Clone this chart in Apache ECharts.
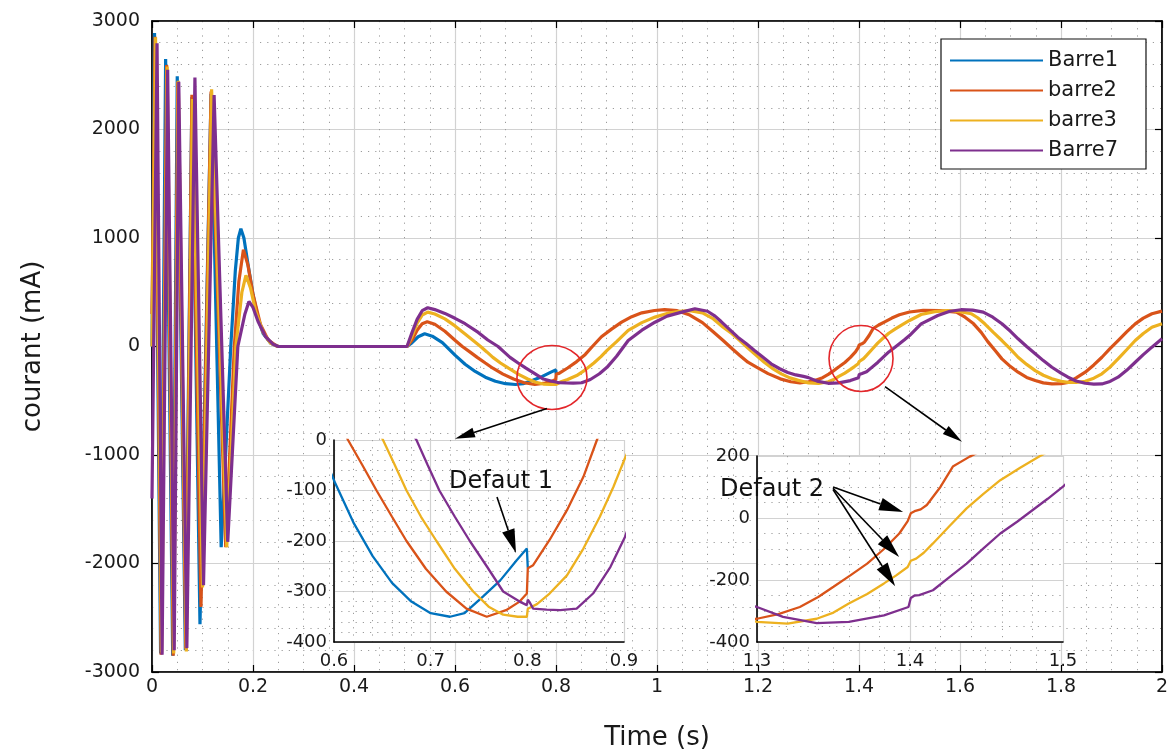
<!DOCTYPE html>
<html>
<head>
<meta charset="utf-8">
<script src="https://cdn.jsdelivr.net/npm/echarts@6/dist/echarts.min.js"></script>
<style>
  html, body { margin: 0; padding: 0; background: #fff; width: 1174px; height: 753px; overflow: hidden; }
  #chart { width: 1174px; height: 753px; }
</style>
</head>
<body>
<div id="chart"></div>
<script>
// Bus currents (mA) versus time (s)
const seriesNames = ['Barre1', 'barre2', 'barre3', 'Barre7'];
const seriesColors = ['#0072BD', '#D95319', '#EDB120', '#7E2F8E'];

const barre1 = [
  [0, 0], [0.005, 2890], [0.017, -2830], [0.027, 2650], [0.041, -2850], [0.050, 2490],
  [0.066, -2800], [0.079, 2300], [0.095, -2560], [0.117, 2330], [0.137, -1850],
  [0.156, 0], [0.165, 700], [0.171, 1000], [0.176, 1085], [0.182, 1000], [0.19, 760],
  [0.2, 480], [0.21, 260], [0.22, 120], [0.235, 30], [0.25, 0],
  [0.505, 0], [0.515, 35], [0.527, 90], [0.54, 117], [0.555, 95], [0.575, 35],
  [0.6, -80], [0.62, -163], [0.64, -230], [0.66, -283], [0.68, -320], [0.70, -343],
  [0.72, -350], [0.735, -343], [0.754, -310], [0.772, -278], [0.789, -238],
  [0.7995, -215], [0.8005, -254]
];

const barre2 = [
  [0, 300], [0.006, 2855], [0.018, -2840], [0.029, 2595], [0.042, -2850], [0.051, 2440],
  [0.067, -2790], [0.079, 2320], [0.097, -2400], [0.117, 2350], [0.146, -1850],
  [0.163, 0], [0.172, 600], [0.181, 893], [0.19, 750], [0.2, 480], [0.215, 200],
  [0.23, 60], [0.245, 10], [0.25, 0],
  [0.505, 0], [0.515, 60], [0.525, 150], [0.535, 210], [0.545, 228], [0.56, 205],
  [0.58, 140], [0.6, 58], [0.6145, 0], [0.63, -52], [0.644, -100], [0.66, -152],
  [0.675, -200], [0.695, -255], [0.716, -300], [0.737, -334], [0.758, -350],
  [0.778, -337], [0.792, -320], [0.7995, -304], [0.8005, -254], [0.806, -248],
  [0.823, -198], [0.841, -139], [0.858, -73], [0.872, 0], [0.89, 90], [0.91, 160],
  [0.93, 225], [0.95, 275], [0.97, 310], [0.995, 332], [1.015, 340], [1.04, 330],
  [1.065, 290], [1.09, 220], [1.11, 140], [1.131, 55], [1.15, -25], [1.164, -83],
  [1.18, -145], [1.197, -191], [1.22, -250], [1.244, -298], [1.265, -325],
  [1.283, -335], [1.3, -325], [1.314, -310], [1.328, -287], [1.34, -255],
  [1.35, -222], [1.361, -185], [1.372, -147], [1.383, -100], [1.393, -50],
  [1.3985, -10], [1.4005, 15], [1.403, 22], [1.407, 28], [1.411, 42], [1.42, 101],
  [1.428, 166], [1.439, 198], [1.45, 225], [1.465, 262], [1.48, 292], [1.5, 318],
  [1.527, 333], [1.56, 330], [1.593, 317], [1.61, 270], [1.627, 209], [1.642, 130],
  [1.655, 45], [1.67, -40], [1.683, -114], [1.7, -185], [1.715, -237], [1.732, -285],
  [1.749, -314], [1.765, -335], [1.782, -345], [1.8, -342], [1.814, -330],
  [1.83, -290], [1.848, -237], [1.865, -170], [1.881, -99], [1.897, -20],
  [1.913, 55], [1.93, 135], [1.947, 209], [1.963, 262], [1.98, 302], [2.0, 326]
];

const barre3 = [
  [0, 0], [0.007, 2850], [0.019, -2820], [0.030, 2580], [0.043, -2830], [0.052, 2450],
  [0.068, -2810], [0.080, 2280], [0.100, -2220], [0.118, 2370], [0.148, -1850],
  [0.166, 0], [0.178, 500], [0.186, 656], [0.195, 540], [0.205, 330], [0.22, 130],
  [0.235, 30], [0.25, 0],
  [0.505, 0], [0.515, 95], [0.525, 215], [0.535, 290], [0.546, 317], [0.56, 300],
  [0.58, 255], [0.6, 190], [0.62, 115], [0.6507, 0], [0.663, -50], [0.675, -100],
  [0.69, -152], [0.706, -200], [0.725, -255], [0.744, -300], [0.76, -330],
  [0.775, -346], [0.79, -350], [0.7995, -350], [0.8005, -334], [0.81, -325],
  [0.823, -304], [0.841, -268], [0.858, -215], [0.875, -152], [0.889, -93],
  [0.901, -36], [0.92, 45], [0.943, 148], [0.97, 220], [0.996, 271], [1.02, 305],
  [1.045, 325], [1.065, 330], [1.09, 310], [1.11, 260], [1.131, 178], [1.148, 120],
  [1.164, 55], [1.18, -15], [1.197, -83], [1.213, -148], [1.23, -206], [1.247, -255],
  [1.263, -289], [1.28, -312], [1.3, -335], [1.32, -341], [1.339, -325], [1.35, -305],
  [1.36, -276], [1.372, -245], [1.383, -211], [1.391, -185], [1.3985, -158],
  [1.4005, -138], [1.404, -131], [1.409, -112], [1.415, -82], [1.426, -25],
  [1.437, 31], [1.448, 78], [1.459, 122], [1.472, 162], [1.485, 200], [1.5, 240],
  [1.523, 295], [1.55, 322], [1.576, 332], [1.6, 322], [1.622, 302], [1.635, 265],
  [1.649, 209], [1.666, 130], [1.683, 55], [1.7, -25], [1.715, -99], [1.732, -165],
  [1.749, -222], [1.765, -265], [1.782, -298], [1.8, -320], [1.814, -330],
  [1.83, -332], [1.848, -320], [1.865, -292], [1.881, -252], [1.897, -190],
  [1.913, -114], [1.93, -30], [1.947, 55], [1.963, 120], [1.98, 178], [2.0, 209]
];

const barre7 = [
  [0, -1400], [0.010, 2795], [0.020, -2840], [0.031, 2550], [0.044, -2800], [0.053, 2440],
  [0.069, -2780], [0.085, 2480], [0.102, -2200], [0.123, 2318], [0.150, -1800],
  [0.170, 0], [0.184, 300], [0.192, 415], [0.2, 360], [0.21, 230], [0.225, 90],
  [0.24, 20], [0.25, 0],
  [0.505, 0], [0.515, 130], [0.525, 250], [0.535, 330], [0.546, 357], [0.56, 340],
  [0.58, 305], [0.6, 260], [0.62, 210], [0.646, 130], [0.665, 60], [0.6853, 0],
  [0.697, -50], [0.709, -100], [0.725, -152], [0.7405, -200], [0.758, -250],
  [0.775, -300], [0.792, -320], [0.7995, -327], [0.8005, -316], [0.802, -320],
  [0.806, -334], [0.82, -336], [0.834, -337], [0.851, -334], [0.868, -304],
  [0.886, -251], [0.901, -192], [0.92, -90], [0.943, 55], [0.97, 150], [0.996, 224],
  [1.02, 280], [1.049, 317], [1.075, 348], [1.1, 325], [1.115, 280], [1.127, 230],
  [1.143, 160], [1.16, 86], [1.177, 25], [1.193, -37], [1.21, -100], [1.226, -160],
  [1.243, -205], [1.259, -240], [1.275, -262], [1.29, -275], [1.3, -287],
  [1.317, -319], [1.339, -339], [1.36, -335], [1.383, -314], [1.399, -287],
  [1.4005, -258], [1.403, -250], [1.406, -249], [1.415, -233], [1.426, -190],
  [1.437, -147], [1.448, -98], [1.459, -50], [1.47, -12], [1.48, 25], [1.49, 62],
  [1.5, 101], [1.523, 209], [1.556, 286], [1.58, 325], [1.602, 339], [1.625, 335],
  [1.646, 317], [1.665, 270], [1.683, 209], [1.7, 140], [1.715, 71], [1.732, 0],
  [1.749, -67], [1.765, -130], [1.782, -191], [1.8, -245], [1.814, -283],
  [1.83, -318], [1.848, -339], [1.865, -347], [1.881, -345], [1.897, -322],
  [1.913, -283], [1.93, -220], [1.947, -145], [1.963, -75], [1.98, -6], [2.0, 71]
];

const seriesData = [barre1, barre2, barre3, barre7];

// Axis ranges and tick steps: main view and the two zoomed views
const mainX = { min: 0, max: 2, interval: 0.2 };
const mainY = { min: -3000, max: 3000, interval: 1000 };
const zoom1X = { min: 0.6, max: 0.9, interval: 0.1 };
const zoom1Y = { min: -400, max: 0, interval: 100 };
const zoom2X = { min: 1.3, max: 1.5, interval: 0.1 };
const zoom2Y = { min: -400, max: 200, interval: 200 };

// Annotation anchors, in data units of the grid they belong to
const faultCircles = [
  { grid: 0, center: [0.792, -286], rx: 35, ry: 32 },
  { grid: 0, center: [1.404, -111], rx: 32, ry: 33 }
];
const zoomArrows = [
  { grid: 0, from: [0.782, -572], to: [0.600, -850] },
  { grid: 0, from: [1.4515, -369], to: [1.604, -877] }
];
const faultLabels = [
  { grid: 1, text: 'Defaut 1', at: [0.7728, -83] },
  { grid: 2, text: 'Defaut 2', at: [1.3098, 90] }
];
const faultArrows = [
  { grid: 1, from: [0.7686, -113], to: [0.7883, -224] },
  { grid: 2, from: [1.3497, 100], to: [1.3955, 19] },
  { grid: 2, from: [1.3497, 96], to: [1.3929, -126] },
  { grid: 2, from: [1.3497, 92], to: [1.3903, -220] }
];

const FONT = '"DejaVu Sans", "Liberation Sans", Arial, sans-serif';
const TEXT = '#1a1a1a';
const MAJOR = '#d2d2d2';
const MINOR = '#9c9c9c';

function plain(v) { return String(Math.round(v * 1000) / 1000); }

function valueAxis(range, gridIndex, opts) {
  return Object.assign({
    type: 'value', gridIndex: gridIndex,
    min: range.min, max: range.max, interval: range.interval,
    axisLine: { show: true, onZero: false, lineStyle: { color: '#000', width: 1.6 } },
    axisTick: { show: false },
    axisLabel: { show: true, color: TEXT, fontFamily: FONT, fontSize: 18, margin: 7, formatter: plain },
    splitLine: { show: true, lineStyle: { color: MAJOR, width: 1.2 } },
    minorTick: { show: false, splitNumber: 5 },
    minorSplitLine: { show: true, lineStyle: { color: MINOR, width: 1, type: [1.2, 6] } }
  }, opts || {});
}

const chart = echarts.init(document.getElementById('chart'), null, { renderer: 'canvas', width: 1174, height: 753 });

// Fixed plot rectangles: the outer names and labels must not shrink them
const grids = [
  { left: 152, top: 21, width: 1010, height: 651, show: true, backgroundColor: '#fff',
    borderColor: '#000', borderWidth: 1.2, z: 0, containLabel: false, outerBoundsMode: 'none' },
  { left: 334, top: 440, width: 290, height: 202, show: true, backgroundColor: '#fff',
    borderWidth: 0, z: 5, containLabel: false, outerBoundsMode: 'none' },
  { left: 757, top: 456, width: 306, height: 186, show: true, backgroundColor: '#fff',
    borderWidth: 0, z: 5, containLabel: false, outerBoundsMode: 'none' }
];

const mainTickLabel = { show: true, color: TEXT, fontFamily: FONT, fontSize: 19, formatter: plain };
const mainTicks = { show: true, inside: true, length: 7, lineStyle: { color: '#000', width: 1.2 } };
const titleStyle = { color: TEXT, fontFamily: FONT, fontSize: 26 };

const xAxes = [
  valueAxis(mainX, 0, {
    name: 'Time (s)', nameLocation: 'middle', nameGap: 53, nameTextStyle: titleStyle,
    axisTick: mainTicks,
    axisLabel: Object.assign({ margin: 6 }, mainTickLabel),
    minorTick: { show: false, splitNumber: 4 },
    z: 0
  }),
  valueAxis(mainX, 0, {
    position: 'top', axisLabel: { show: false }, axisTick: mainTicks,
    splitLine: { show: false }, minorSplitLine: { show: false }, z: 0
  }),
  valueAxis(zoom1X, 1, {
    axisLabel: { color: TEXT, fontFamily: FONT, fontSize: 18, margin: 10, formatter: plain },
    minorTick: { show: false, splitNumber: 5 }, z: 6
  }),
  valueAxis(zoom2X, 2, {
    axisLabel: { color: TEXT, fontFamily: FONT, fontSize: 18, margin: 10, formatter: plain },
    minorTick: { show: false, splitNumber: 5 }, z: 6
  })
];

const yAxes = [
  valueAxis(mainY, 0, {
    name: 'courant (mA)', nameLocation: 'middle', nameGap: 106, nameTextStyle: titleStyle,
    axisTick: mainTicks,
    axisLabel: Object.assign({ margin: 12 }, mainTickLabel),
    minorTick: { show: false, splitNumber: 5 },
    z: 0
  }),
  valueAxis(mainY, 0, {
    position: 'right', axisLabel: { show: false }, axisTick: mainTicks,
    splitLine: { show: false }, minorSplitLine: { show: false }, z: 0
  }),
  valueAxis(zoom1Y, 1, { minorTick: { show: false, splitNumber: 5 }, z: 6 }),
  valueAxis(zoom2Y, 2, { minorTick: { show: false, splitNumber: 4 }, z: 6 })
];

// One line per bus in the main view, repeated in each zoomed view
const series = [];
const views = [
  { x: 0, y: 0, width: 3.2, z: 2 },
  { x: 2, y: 2, width: 2.3, z: 7 },
  { x: 3, y: 3, width: 2.3, z: 7 }
];
views.forEach(function (v) {
  seriesNames.forEach(function (name, i) {
    series.push({
      type: 'line', name: name, data: seriesData[i],
      xAxisIndex: v.x, yAxisIndex: v.y,
      showSymbol: false, symbol: 'none', clip: true, z: v.z,
      lineStyle: { color: seriesColors[i], width: v.width },
      itemStyle: { color: seriesColors[i] },
      emphasis: { disabled: true }
    });
  });
});

chart.setOption({
  animation: false,
  backgroundColor: '#fff',
  grid: grids,
  xAxis: xAxes,
  yAxis: yAxes,
  legend: {
    data: seriesNames, orient: 'vertical', left: 941, top: 39, z: 10,
    icon: 'rect', itemWidth: 93, itemHeight: 2, itemGap: 9,
    padding: [11, 28, 8, 9],
    backgroundColor: '#fff', borderColor: '#111', borderWidth: 1.2,
    textStyle: { color: TEXT, fontFamily: FONT, fontSize: 21 },
    selectedMode: false
  },
  series: series
});

// Overlay annotations: red circles, arrows and fault labels
function toPx(grid, p) { return chart.convertToPixel({ gridIndex: grid }, p); }

function arrowShapes(a, b, headLen, headHalf, width) {
  const dx = b[0] - a[0], dy = b[1] - a[1];
  const len = Math.sqrt(dx * dx + dy * dy);
  const ux = dx / len, uy = dy / len;
  const base = [b[0] - ux * headLen, b[1] - uy * headLen];
  return [
    { type: 'line', z: 20, shape: { x1: a[0], y1: a[1], x2: base[0], y2: base[1] },
      style: { stroke: '#000', lineWidth: width } },
    { type: 'polygon', z: 20,
      shape: { points: [b, [base[0] - uy * headHalf, base[1] + ux * headHalf],
                        [base[0] + uy * headHalf, base[1] - ux * headHalf]] },
      style: { fill: '#000' } }
  ];
}

const overlay = [];
faultCircles.forEach(function (c) {
  const p = toPx(c.grid, c.center);
  overlay.push({ type: 'ellipse', z: 20, shape: { cx: p[0], cy: p[1], rx: c.rx, ry: c.ry },
    style: { fill: 'none', stroke: '#E3262A', lineWidth: 1.6 } });
});
zoomArrows.forEach(function (a) {
  overlay.push.apply(overlay, arrowShapes(toPx(a.grid, a.from), toPx(a.grid, a.to), 20, 5, 1.6));
});
faultArrows.forEach(function (a) {
  overlay.push.apply(overlay, arrowShapes(toPx(a.grid, a.from), toPx(a.grid, a.to), 24, 6.5, 1.6));
});
faultLabels.forEach(function (l) {
  const p = toPx(l.grid, l.at);
  overlay.push({ type: 'text', z: 21, x: p[0], y: p[1],
    style: { text: l.text, fill: '#111', font: '24px ' + FONT, align: 'center', verticalAlign: 'middle' } });
});

chart.setOption({ graphic: { elements: overlay } });
</script>
</body>
</html>
